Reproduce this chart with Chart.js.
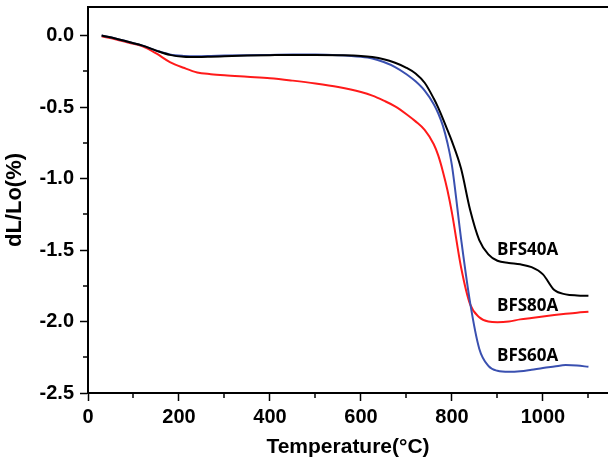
<!DOCTYPE html>
<html>
<head>
<meta charset="utf-8">
<script src="https://cdn.jsdelivr.net/npm/chart.js@4.4.0/dist/chart.umd.min.js"></script>
<style>
	html, body { margin: 0; padding: 0; background: #fff; }
	canvas { display: block; }
</style>
</head>
<body>
<canvas id="dilatometry" width="608" height="463"></canvas>
<script>
// --- Data ---
const temperature = [30, 60, 90, 120, 150, 180, 210, 240, 270, 300, 350, 400, 450, 500, 550, 600, 625, 650, 675, 700, 720, 740, 760, 770, 780, 790, 800, 820, 840, 860, 880, 900, 925, 950, 975, 1000, 1025, 1050, 1075, 1100];

const bfs40a = [0, -0.02, -0.045, -0.07, -0.105, -0.135, -0.148, -0.15, -0.148, -0.145, -0.14, -0.137, -0.135, -0.135, -0.137, -0.142, -0.15, -0.165, -0.19, -0.225, -0.265, -0.33, -0.44, -0.505, -0.58, -0.66, -0.74, -0.93, -1.22, -1.43, -1.53, -1.575, -1.59, -1.6, -1.62, -1.67, -1.78, -1.81, -1.818, -1.82];
const bfs60a = [0, -0.02, -0.045, -0.07, -0.105, -0.132, -0.142, -0.145, -0.143, -0.14, -0.137, -0.135, -0.133, -0.133, -0.137, -0.148, -0.16, -0.185, -0.22, -0.27, -0.32, -0.385, -0.48, -0.545, -0.63, -0.75, -0.91, -1.42, -1.87, -2.19, -2.31, -2.345, -2.352, -2.348, -2.337, -2.325, -2.315, -2.305, -2.308, -2.317];
const bfs80a = [-0.005, -0.025, -0.05, -0.075, -0.125, -0.185, -0.225, -0.258, -0.27, -0.278, -0.288, -0.298, -0.315, -0.335, -0.36, -0.395, -0.42, -0.455, -0.495, -0.55, -0.6, -0.66, -0.76, -0.84, -0.95, -1.08, -1.24, -1.62, -1.88, -1.97, -2.0, -2.005, -2.0, -1.985, -1.975, -1.965, -1.955, -1.946, -1.938, -1.932];

const seriesNames = ["BFS40A", "BFS60A", "BFS80A"];
const seriesColors = ["#000000", "#3a50b0", "#ff1a1a"];
const labelTemp = [899, 899, 899];
const labelValue = [-1.50, -2.24, -1.895];

const xTicks = [0, 200, 400, 600, 800, 1000];
const xMinorTicks = [100, 300, 500, 700, 900, 1100];
const yTicks = [0, -0.5, -1.0, -1.5, -2.0, -2.5];
const yMinorTicks = [-0.25, -0.75, -1.25, -1.75, -2.25];

document.addEventListener("DOMContentLoaded", function () {
	const ctx = document.getElementById("dilatometry");

	// Frame top line, minor ticks and curve names
	const decorations = {
		id: "decorations",
		afterDraw(chart) {
			const c = chart.ctx;
			const area = chart.chartArea;
			const xs = chart.scales.x;
			const ys = chart.scales.y;
			c.save();
			c.strokeStyle = "#000";
			c.lineWidth = 2;
			c.beginPath();
			c.moveTo(area.left - 1, area.top);
			c.lineTo(area.right, area.top);
			c.stroke();

			c.lineWidth = 1.5;
			xMinorTicks.forEach(function (v) {
				const px = Math.round(xs.getPixelForValue(v));
				c.beginPath();
				c.moveTo(px, area.bottom);
				c.lineTo(px, area.bottom + 5);
				c.stroke();
			});
			yMinorTicks.forEach(function (v) {
				const py = Math.round(ys.getPixelForValue(v));
				c.beginPath();
				c.moveTo(area.left, py);
				c.lineTo(area.left - 5, py);
				c.stroke();
			});

			c.fillStyle = "#000";
			c.font = "bold 17px 'Open Sans'";
			c.textAlign = "left";
			c.textBaseline = "middle";
			seriesNames.forEach(function (name, i) {
				c.fillText(name, xs.getPixelForValue(labelTemp[i]), ys.getPixelForValue(labelValue[i]));
			});
			c.restore();
		},
	};

	function points(values) {
		return values.map((v, i) => ({ x: temperature[i], y: v }));
	}

	const seriesValues = [bfs40a, bfs60a, bfs80a];

	new Chart(ctx, {
		type: "line",
		data: {
			datasets: seriesNames.map((name, i) => ({
				label: name,
				data: points(seriesValues[i]),
				borderColor: seriesColors[i],
				borderWidth: 2,
				pointRadius: 0,
				fill: false,
				cubicInterpolationMode: "monotone",
			})),
		},
		options: {
			responsive: false,
			animation: false,
			devicePixelRatio: 1,
			layout: { padding: { top: 7, right: 0, left: 0, bottom: 0 } },
			plugins: {
				legend: { display: false },
				tooltip: { enabled: false },
			},
			scales: {
				x: {
					type: "linear",
					min: 0,
					max: 1143,
					afterBuildTicks: (scale) => {
						scale.ticks = xTicks.map((v) => ({ value: v }));
					},
					afterFit: (scale) => {
						scale.height = 70;
						scale.paddingLeft = 0;
						scale.paddingRight = 0;
					},
					grid: {
						drawOnChartArea: false,
						tickLength: 8,
						tickWidth: 1.5,
						tickColor: "#000",
					},
					border: { color: "#000", width: 2 },
					ticks: {
						color: "#000",
						font: { family: "'Liberation Sans', Arial", size: 20, weight: "bold" },
						padding: 4,
						maxRotation: 0,
						callback: (value) => String(value),
					},
					title: {
						display: true,
						text: "Temperature(°C)",
						color: "#000",
						font: { family: "'Liberation Sans', Arial", size: 21, weight: "bold" },
						padding: { top: 0, bottom: 3 },
					},
				},
				y: {
					min: -2.5,
					max: 0.2,
					afterBuildTicks: (scale) => {
						scale.ticks = yTicks.map((v) => ({ value: v }));
					},
					afterFit: (scale) => {
						scale.width = 88;
						scale.paddingTop = 0;
						scale.paddingBottom = 0;
					},
					grid: {
						drawOnChartArea: false,
						tickLength: 8,
						tickWidth: 1.5,
						tickColor: "#000",
					},
					border: { color: "#000", width: 2 },
					ticks: {
						color: "#000",
						font: { family: "'Liberation Sans', Arial", size: 20, weight: "bold" },
						padding: 6,
						callback: (value) => Number(value).toFixed(1),
					},
					title: {
						display: true,
						text: "dL/Lo(%)",
						color: "#000",
						font: { family: "'Liberation Sans', Arial", size: 22, weight: "bold" },
						padding: { top: 2, bottom: 0 },
					},
				},
			},
		},
		plugins: [decorations],
	});
});
</script>
</body>
</html>
